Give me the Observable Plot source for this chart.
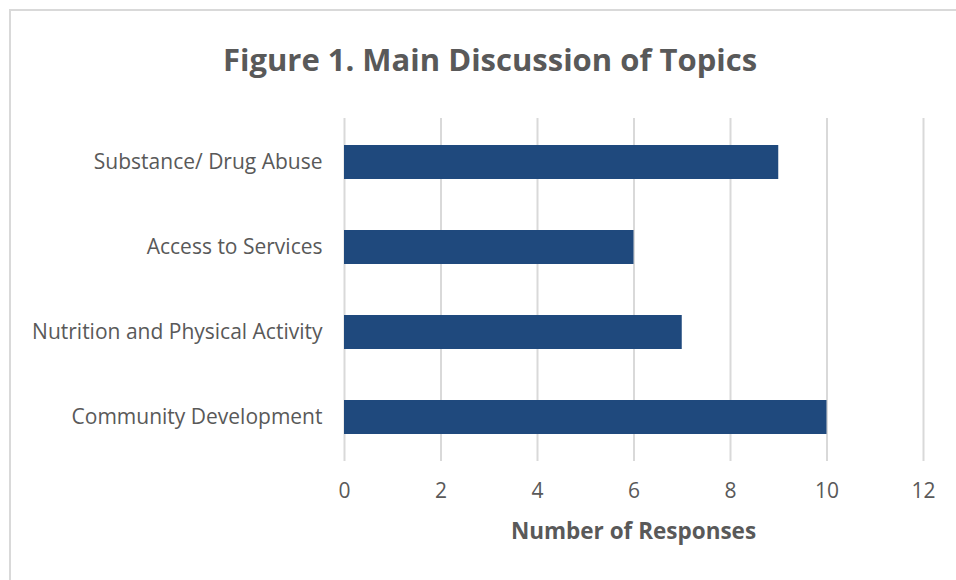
<!DOCTYPE html>
<html>
<head>
<meta charset="utf-8">
<script src="https://cdn.jsdelivr.net/npm/d3@7"></script>
<script src="https://cdn.jsdelivr.net/npm/@observablehq/plot@0.6"></script>
<style>
  body { margin: 0; background: #fff; }
  #wrap { position: relative; width: 956px; height: 580px; overflow: hidden; font-family: "Open Sans", sans-serif; }
  #frame { position: absolute; left: 9px; top: 9px; width: 960px; height: 600px; border-left: 2px solid #d9d9d9; border-top: 2px solid #d9d9d9; }
  #title { position: absolute; left: 0; width: 980px; top: 37px; line-height: 44px; text-align: center; font-weight: 700; font-size: 31px; color: #595959; }
  #xlabel { position: absolute; left: 344px; width: 579px; top: 516px; line-height: 30px; text-align: center; font-weight: 700; font-size: 22.5px; color: #595959; }
  #chart { position: absolute; left: 0; top: 0; }
</style>
</head>
<body>
<div id="wrap">
  <div id="frame"></div>
  <div id="title">Figure 1. Main Discussion of Topics</div>
  <div id="chart"></div>
  <div id="xlabel">Number of Responses</div>
</div>
<script>
const topics = ["Substance/ Drug Abuse", "Access to Services", "Nutrition and Physical Activity", "Community Development"];
const responses = [9, 6, 7, 10];
const xTicks = [0, 2, 4, 6, 8, 10, 12];

const data = topics.map((t, i) => ({topic: t, value: responses[i]}));

const chart = Plot.plot({
  width: 956,
  height: 580,
  marginLeft: 344,
  marginRight: 33,
  marginTop: 118,
  marginBottom: 119,
  style: {background: "transparent", fontFamily: "Open Sans, sans-serif", fontSize: "21px", color: "#595959"},
  x: {domain: [0, 12], ticks: xTicks, label: null},
  y: {domain: topics, paddingInner: 0.6, paddingOuter: 0.3, label: null},
  marks: [
    Plot.gridX(xTicks, {stroke: "#d9d9d9", strokeOpacity: 1, strokeWidth: 2}),
    Plot.barX(data, {x: "value", y: "topic", fill: "#1f497d"}),
    Plot.axisX({ticks: xTicks, tickSize: 0, tickPadding: 22, label: null, fill: "#595959"}),
    Plot.axisY({tickSize: 0, tickPadding: 22, label: null, fill: "#595959"})
  ]
});
document.getElementById("chart").appendChild(chart);
</script>
</body>
</html>
